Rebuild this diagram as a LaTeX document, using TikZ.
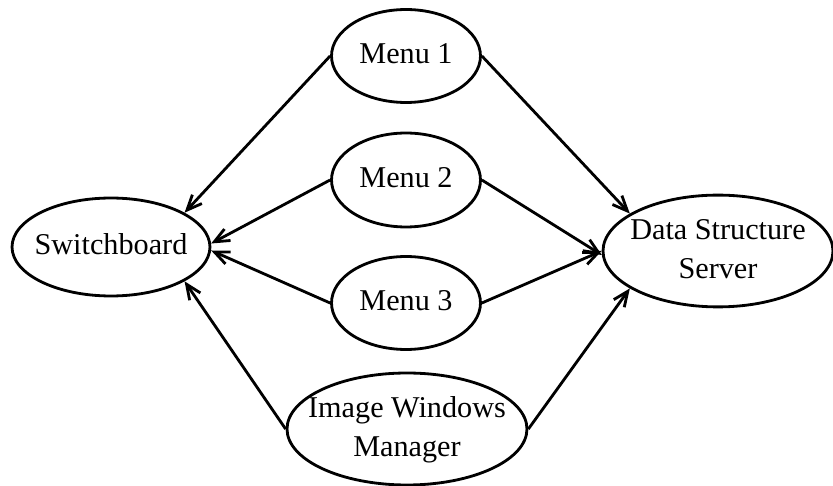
\documentclass[tikz,border=0pt]{standalone}
\usepackage{fontspec}
\setmainfont{Liberation Serif}
\usetikzlibrary{shapes.geometric,arrows.meta}

% Beschriftung ohne Einfluss auf die Ellipsengroesse
\newcommand{\lbl}[1]{\makebox[0pt]{\begin{tabular}{@{}c@{}}#1\end{tabular}}}

\begin{document}
\begin{tikzpicture}[x=0.02cm, y=-0.02cm,
	modul/.style={ellipse, draw=black, line width=1.6pt, inner sep=0pt,
		font=\fontsize{17.2}{22.5}\selectfont},
	pfeil/.style={line width=1.6pt,
		-{Straight Barb[length=0.3cm, width=0.26cm]}}]
	\useasboundingbox (0,0) rectangle (833,486);

	% Module
	\node[modul, minimum width=3.96cm, minimum height=1.96cm] (switch) at (111,247) {\lbl{Switchboard}};
	\node[modul, minimum width=2.98cm, minimum height=1.86cm] (menu1) at (406,56) {\lbl{Menu 1}};
	\node[modul, minimum width=2.98cm, minimum height=1.88cm] (menu2) at (406,180) {\lbl{Menu 2}};
	\node[modul, minimum width=2.98cm, minimum height=1.86cm] (menu3) at (406,303) {\lbl{Menu 3}};
	\node[modul, minimum width=4.8cm, minimum height=2.24cm] (iwm) at (407,429) {\lbl{Image Windows\\Manager}};
	\node[modul, minimum width=4.6cm, minimum height=2.04cm] (dss) at (718,251) {\lbl{Data Structure\\Server}};

	% Verbindungen zum Switchboard
	\draw[pfeil] (menu1.west) -- (switch.25);
	\draw[pfeil] (menu2.west) -- (switch.2);
	\draw[pfeil] (menu3.west) -- (switch.-2);
	\draw[pfeil] (iwm.west) -- (switch.-25);

	% Verbindungen zum Server
	\draw[pfeil] (menu1.east) -- (dss.157);
	\draw[pfeil] (menu2.east) -- (dss.182);
	\draw[pfeil] (menu3.east) -- (dss.180);
	\draw[pfeil] (iwm.east) -- (dss.203);
\end{tikzpicture}
\end{document}
